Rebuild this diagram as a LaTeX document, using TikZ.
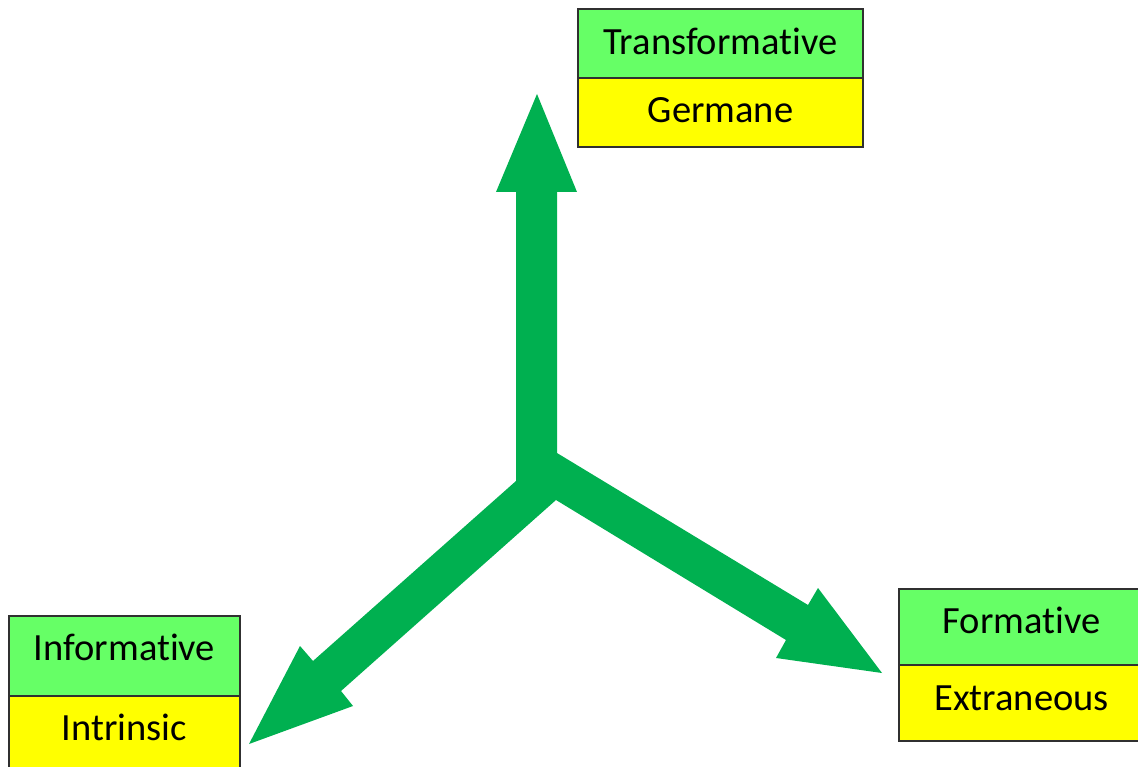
\documentclass[tikz,border=0pt]{standalone}
\usepackage{fontspec}
\setmainfont{Carlito}[Ligatures={NoCommon}]
\definecolor{cellgreen}{HTML}{66FF66}
\definecolor{cellyellow}{HTML}{FFFF00}
\definecolor{arrowgreen}{HTML}{00B050}
\definecolor{edge}{HTML}{303030}
\tikzset{
  cell/.style={rectangle, draw=edge, line width=1.2pt, inner sep=0pt},
  lab/.style={inner sep=0pt, anchor=base, font=\fontsize{38.5}{44}\selectfont},
  bigarrow/.style={fill=arrowgreen, draw=none}
}
\begin{document}
\begin{tikzpicture}[x=1pt,y=-1pt]
\useasboundingbox (0,0) rectangle (1138,767);
\clip (0,0) rectangle (1138,767);
% arrows (one filled shape)
\fill[bigarrow]
  (516,192) -- (496,192) -- (537,94) -- (577,192) -- (557,192)
  -- (557,453) -- (808,605) -- (818,588) -- (882,673) -- (776,658) -- (786,640)
  -- (556,500) -- (341,691) -- (353,706) -- (249,744) -- (300,646) -- (313,661)
  -- (516,481) -- cycle;
% top table
\node[cell, fill=cellgreen, minimum width=285pt, minimum height=69pt] (tbox1) at (720.5,43.5) {};
\node[cell, fill=cellyellow, minimum width=285pt, minimum height=69pt] (tbox2) at (720.5,112.5) {};
\node[lab] (ttext1) at (720.5,55) {Transformative};
\node[lab] (ttext2) at (720.5,123) {Germane};
% left table
\node[cell, fill=cellgreen, minimum width=231pt, minimum height=80pt] (lbox1) at (124.5,656) {};
\node[cell, fill=cellyellow, minimum width=231pt, minimum height=80pt] (lbox2) at (124.5,736) {};
\node[lab] (ltext1) at (124.5,660) {Informative};
\node[lab] (ltext2) at (124.5,740) {Intrinsic};
% right table
\node[cell, fill=cellgreen, minimum width=245pt, minimum height=76pt] (rbox1) at (1021.5,627) {};
\node[cell, fill=cellyellow, minimum width=245pt, minimum height=76pt] (rbox2) at (1021.5,703) {};
\node[lab] (rtext1) at (1021.5,633) {Formative};
\node[lab] (rtext2) at (1021.5,710) {Extraneous};
\end{tikzpicture}
\end{document}
